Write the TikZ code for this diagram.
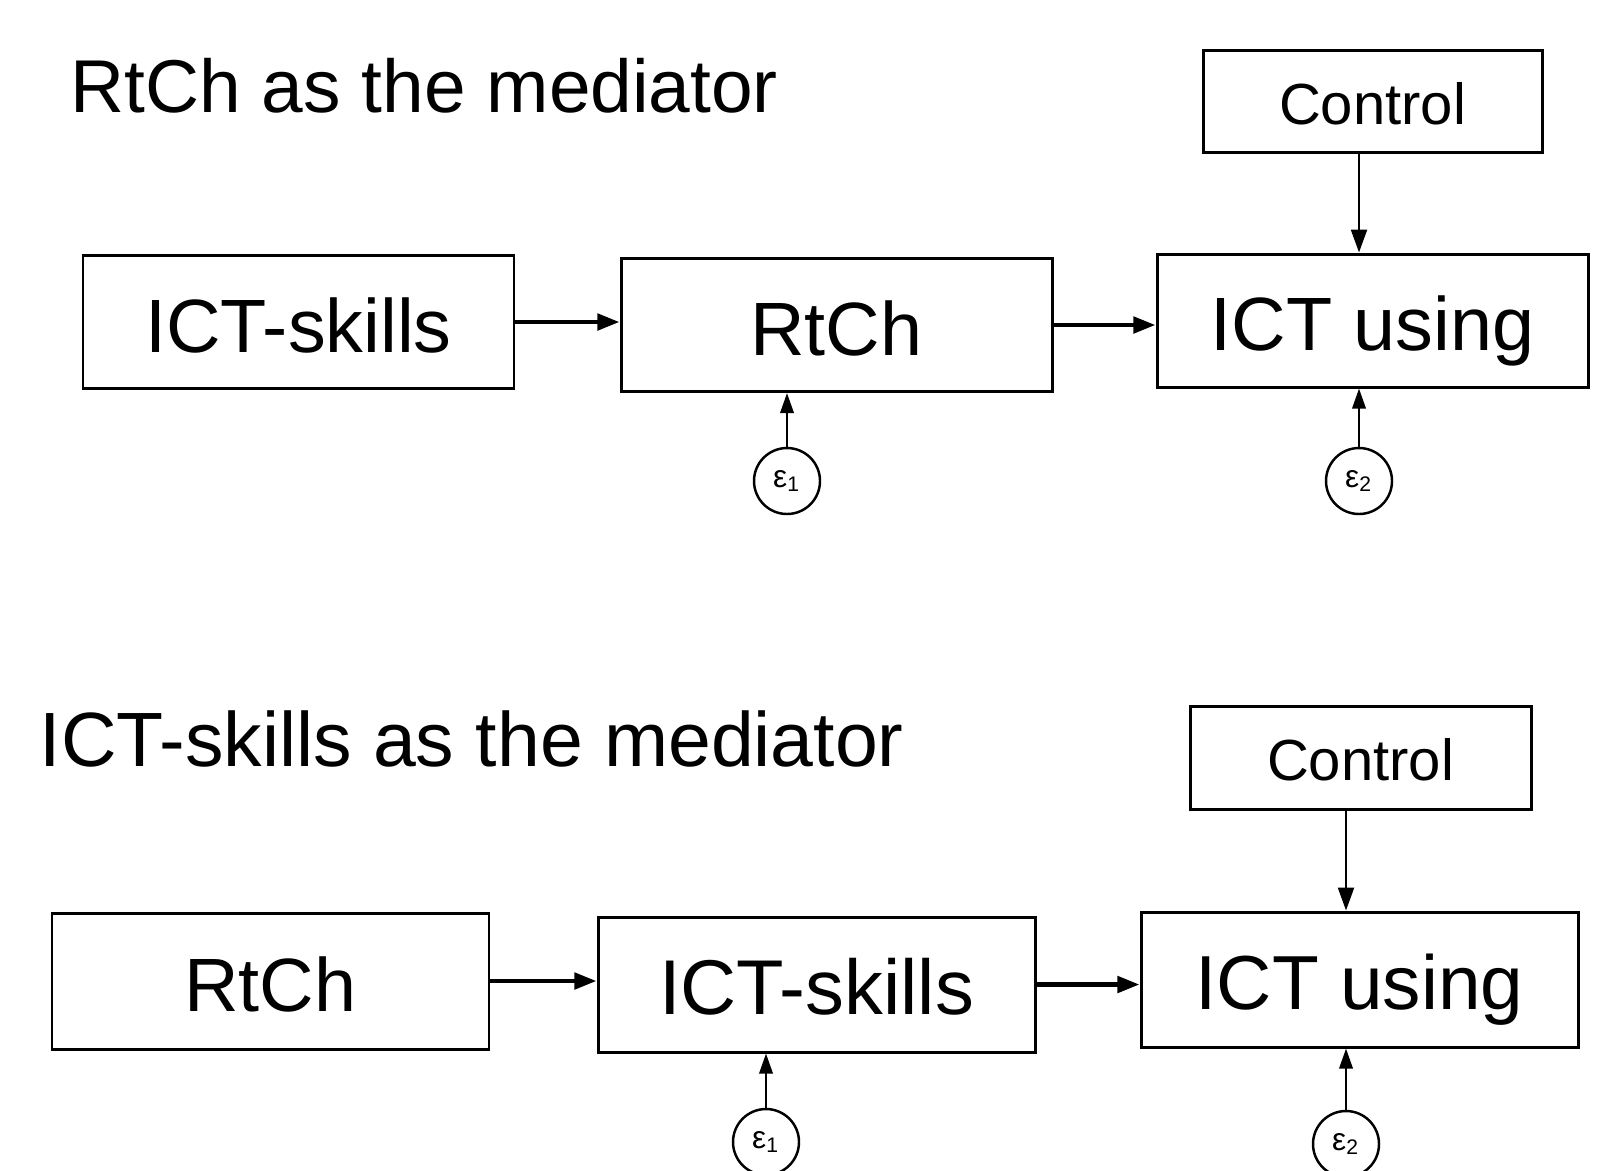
\documentclass[tikz,border=0pt]{standalone}
\usepackage{fontspec}
\setmainfont{Liberation Sans}
\usetikzlibrary{positioning,arrows.meta}

\begin{document}
\begin{tikzpicture}[x=0.1mm, y=-0.1mm,
    block/.style={rectangle, draw, line width=0.85pt, text=black, minimum width=43.1mm, minimum height=13.3mm, text height=17.2pt, text depth=0pt, font=\fontsize{21.5}{25}\selectfont},
    ctrlbox/.style={rectangle, draw, line width=0.85pt, minimum width=33.9mm, minimum height=10.2mm, text height=13pt, text depth=0pt, font=\fontsize{16.5}{20}\selectfont},
    errnode/.style={circle, draw, line width=0.7pt, minimum size=6.6mm, inner sep=0pt, font=\fontsize{9}{10}\selectfont},
    heading/.style={anchor=base west, inner sep=0pt, font=\fontsize{21.3}{25}\selectfont},
    arrow/.style={-{Triangle[length=6.3pt,width=4.6pt]}, line width=1.3pt},
    ctrlarrow/.style={-{Triangle[length=6.5pt,width=4.5pt]}, line width=0.7pt},
    errarrow/.style={-{Triangle[length=5.7pt,width=3.8pt]}, line width=0.7pt}
]
\useasboundingbox (0,0) rectangle (1624,1170);

% RtCh as the mediator
\node[heading] (titleA) at (70,112) {RtCh as the mediator};
\node[block] (skillsA) at (298.5,322) {ICT-skills};
\node[block] (rtchA) at (836.5,325) {RtCh};
\node[block] (usingA) at (1372.5,320.5) {ICT using};
\node[ctrlbox] (ctrlA) at (1372.5,101.5) {Control};
\node[errnode] (epsA1) at (787,481) {ε\textsubscript{1}};
\node[errnode] (epsA2) at (1359,481) {ε\textsubscript{2}};

\draw[arrow] (skillsA.east) -- (skillsA.east -| rtchA.west);
\draw[arrow] (rtchA.east) -- (rtchA.east -| usingA.west);
\draw[ctrlarrow] (epsA2 |- ctrlA.south) -- (epsA2 |- usingA.north);
\draw[errarrow] (epsA1) -- (epsA1 |- rtchA.south);
\draw[errarrow] (epsA2) -- (epsA2 |- usingA.south);

% ICT-skills as the mediator
\node[heading, font=\fontsize{21.9}{25}\selectfont] (titleB) at (39,766) {ICT-skills as the mediator};
\node[block, minimum width=43.7mm, minimum height=13.6mm] (rtchB) at (270.5,981) {RtCh};
\node[block, minimum width=43.7mm, minimum height=13.5mm, font=\fontsize{22.1}{25}\selectfont] (skillsB) at (816.5,984.5) {ICT-skills};
\node[block, minimum width=43.7mm, minimum height=13.5mm, font=\fontsize{21.8}{25}\selectfont] (usingB) at (1359.5,979.5) {ICT using};
\node[ctrlbox, minimum width=34.1mm, minimum height=10.3mm] (ctrlB) at (1360.5,757.5) {Control};
\node[errnode] (epsB1) at (766,1142) {ε\textsubscript{1}};
\node[errnode] (epsB2) at (1346,1144) {ε\textsubscript{2}};

\draw[arrow] (rtchB.east) -- (rtchB.east -| skillsB.west);
\draw[arrow] (skillsB.east) -- (skillsB.east -| usingB.west);
\draw[ctrlarrow] (epsB2 |- ctrlB.south) -- (epsB2 |- usingB.north);
\draw[errarrow] (epsB1) -- (epsB1 |- skillsB.south);
\draw[errarrow] (epsB2) -- (epsB2 |- usingB.south);
\end{tikzpicture}
\end{document}
